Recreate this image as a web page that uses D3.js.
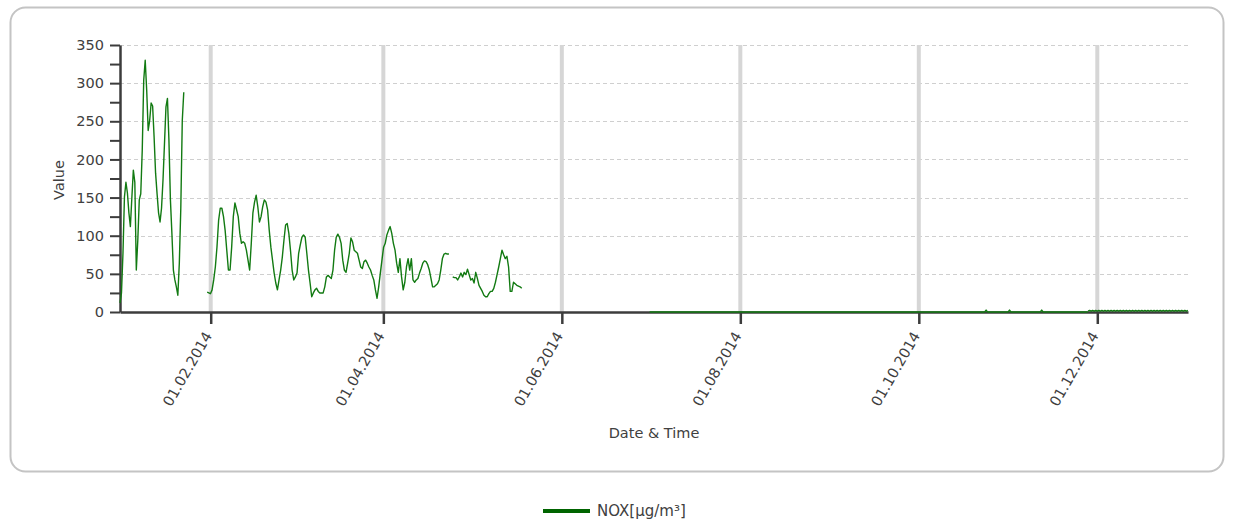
<!DOCTYPE html>
<html><head><meta charset="utf-8">
<script src="https://cdn.jsdelivr.net/npm/d3@7"></script>
<style>
body{margin:0;background:#fff;}
svg{display:block;}
text{font-family:"DejaVu Sans",sans-serif;}
</style>
</head><body>
<svg id="chart" width="1235" height="523"></svg>
<script>
// ---------------- DATA ----------------
const seriesName = "NOX[µg/m³]";
const xTitle = "Date & Time";
const yTitle = "Value";
const xDomain = ["2014-01-01T00:00", "2015-01-01T00:00"];
const xTickDates = ["2014-02-01T00:00","2014-04-01T00:00","2014-06-01T00:00","2014-08-01T00:00","2014-10-01T00:00","2014-12-01T00:00"];
const yTicks = [0,25,50,75,100,125,150,175,200,225,250,275,300,325,350];
const yLabelTicks = [0,50,100,150,200,250,300,350];

const janStart = "2014-01-01T00:00", janEnd = "2014-01-22T19:00";
const janValues = [12,25,77,151,170,156,130,112,150,186,170,55,94,147,155,212,304,330,291,238,251,274,270,229,182,155,130,118,136,173,221,269,280,225,147,103,55,42,33,22,64,136,251,288];

const febAprStart = "2014-01-30T19:00", febAprEnd = "2014-04-23T10:00";
const febAprValues = [
  26,25,24,29,42,59,85,120,136,136,125,107,81,55,55,85,125,143,134,125,103,90,92,90,81,68,55,90,130,144,153,138,118,125,138,147,144,134,107,85,68,51,38,29,42,55,72,94,114,116,103,81,55,42,46,
  51,77,88,98,101,98,77,55,38,20,25,29,31,27,25,25,25,33,46,48,46,44,55,81,98,102,98,90,68,55,52,64,77,97,92,81,79,77,68,59,57,66,68,64,59,55,48,42,29,18,33,51,68,85,90,101,107,112,
  103,90,81,64,52,70,46,29,39,59,70,55,70,42,39,42,44,51,57,64,67,66,62,55,44,33,33,35,37,42,55,70,76,77,76,76];

const mayStart = "2014-04-24T17:00", mayEnd = "2014-05-18T07:00";
const mayValues = [46,45,45,42,46,51,46,52,49,56,49,42,44,38,52,44,35,31,27,22,20,20,24,27,27,31,39,49,59,70,81,75,70,73,59,27,27,39,37,35,34,33,31];

const lateDates = ["2014-07-01T00:00","2014-10-23T12:00","2014-10-24T00:00","2014-10-24T12:00","2014-10-31T12:00","2014-11-01T00:00","2014-11-01T12:00","2014-11-11T12:00","2014-11-12T00:00","2014-11-12T12:00","2014-11-27T18:00"];
const lateValues = [0,0,2.5,0,0,2.5,0,0,2.5,0,0];

const decStart = "2014-11-27T20:00", decEnd = "2014-12-31T23:00";
const decValues = [1,2,1,2,1,2,1,2,1,2,1,2,1,2,1,2,1,2,1,2,1,2,1,2,1,2,1,2,1,2,1,2,1,2,1,2,1,2,1,2,1,2,1,2,1,2,1,2,1,2,1,2,1,2,1,2,1,2,1,2,1,2,1,2,1,2];

// ---------------- CHART ----------------
const parse = d3.timeParse("%Y-%m-%dT%H:%M");
function segment(start, end, vals){
  const s = parse(start), e = parse(end);
  return vals.map((v,i)=>({date:new Date(+s + (e - s) * i / (vals.length - 1)), value:v}));
}
const segments = [
  segment(janStart, janEnd, janValues),
  segment(febAprStart, febAprEnd, febAprValues),
  segment(mayStart, mayEnd, mayValues),
  lateDates.map((d,i)=>({date:parse(d), value:lateValues[i]})),
  segment(decStart, decEnd, decValues)
];

const svg = d3.select("#chart");
const plot = {left:120, right:1188, top:45, bottom:312};
const FS = 14.5;

const x = d3.scaleTime().domain(xDomain.map(parse)).range([plot.left, plot.right]);
const y = d3.scaleLinear().domain([0, 350]).range([plot.bottom, plot.top]);

// outer frame
svg.append("rect").attr("x",10.5).attr("y",7.5).attr("width",1213).attr("height",464)
  .attr("rx",15).attr("ry",15).attr("fill","#fff").attr("stroke","#c4c4c4").attr("stroke-width",2);

// horizontal dashed grid
svg.append("g").selectAll("line").data(yLabelTicks.filter(d=>d>0)).join("line")
  .attr("x1",plot.left).attr("x2",plot.right)
  .attr("y1",d=>Math.round(y(d))+0.5).attr("y2",d=>Math.round(y(d))+0.5)
  .attr("stroke","#cfcfcf").attr("stroke-width",1).attr("stroke-dasharray","4,3");

// vertical grid
svg.append("g").selectAll("line").data(xTickDates.map(parse)).join("line")
  .attr("x1",d=>x(d)).attr("x2",d=>x(d))
  .attr("y1",plot.top).attr("y2",plot.bottom)
  .attr("stroke","#d6d6d6").attr("stroke-width",4);

// y axis
const yAxis = svg.append("g").attr("transform",`translate(${plot.left},0)`)
  .call(d3.axisLeft(y).tickValues(yTicks).tickSize(10).tickSizeOuter(0).tickPadding(6)
    .tickFormat(d => yLabelTicks.includes(d) ? d : ""));
yAxis.select(".domain").attr("stroke","#3c3c3c").attr("stroke-width",2.5);
yAxis.selectAll(".tick line").attr("stroke","#3c3c3c").attr("stroke-width",2);
yAxis.selectAll(".tick text").attr("fill","#404040").attr("font-size",FS).attr("font-family","DejaVu Sans");

// x axis
const xAxis = svg.append("g").attr("transform",`translate(0,${plot.bottom})`)
  .call(d3.axisBottom(x).tickValues(xTickDates.map(parse)).tickSize(12).tickSizeOuter(0)
    .tickFormat(d3.timeFormat("%d.%m.%Y")));
xAxis.select(".domain").attr("stroke","#3c3c3c").attr("stroke-width",2.5);
xAxis.selectAll(".tick line").attr("stroke","#3c3c3c").attr("stroke-width",2.5);
xAxis.selectAll(".tick text").attr("fill","#404040").attr("font-size",FS).attr("font-family","DejaVu Sans")
  .attr("x",0).attr("y",0).attr("dy","0.35em")
  .attr("text-anchor","end")
  .attr("transform","translate(-3,21) rotate(-60)");

// axis titles
svg.append("text").attr("x",654).attr("y",438).attr("text-anchor","middle")
  .attr("font-size",FS).attr("fill","#404040").text(xTitle);
svg.append("text").attr("transform","translate(64,180) rotate(-90)").attr("text-anchor","middle")
  .attr("font-size",FS).attr("fill","#404040").text(yTitle);

// data lines
const line = d3.line().x(d=>x(d.date)).y(d=>y(d.value));
svg.append("g").selectAll("path").data(segments).join("path")
  .attr("d", line).attr("fill","none").attr("stroke","#127a12").attr("stroke-width",1.4)
  .attr("stroke-linejoin","round");

// legend
svg.append("line").attr("x1",543).attr("x2",590).attr("y1",511).attr("y2",511)
  .attr("stroke","#006400").attr("stroke-width",4);
svg.append("text").attr("x",597).attr("y",516).attr("font-size",15).attr("fill","#404040").text(seriesName);
</script>
</body></html>
